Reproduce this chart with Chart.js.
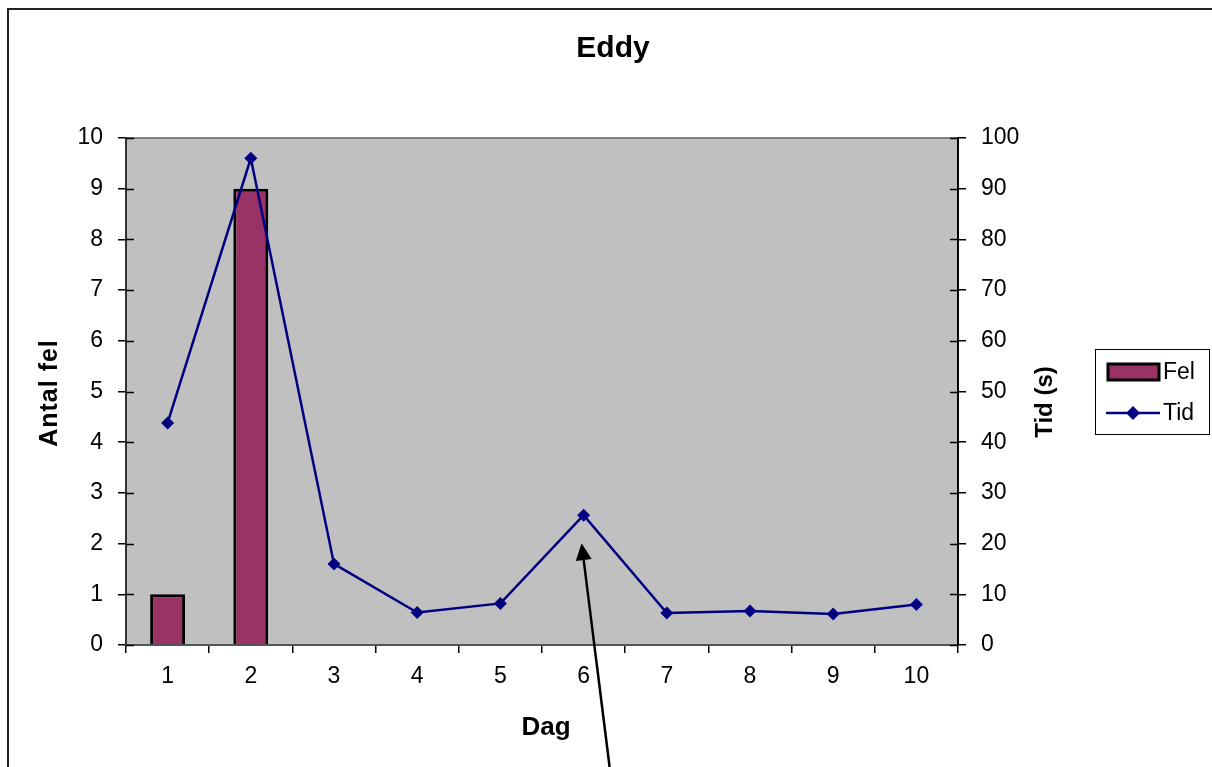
<!DOCTYPE html>
<html>
<head>
<meta charset="utf-8">
<script src="https://cdn.jsdelivr.net/npm/chart.js@4/dist/chart.umd.min.js"></script>
<style>
  html, body { margin: 0; padding: 0; background: #fff; }
  #myChart { display: block; }
</style>
</head>
<body>
<canvas id="myChart" width="1212" height="767"></canvas>
<script>
const days = ["1", "2", "3", "4", "5", "6", "7", "8", "9", "10"];
const felValues = [1, 9, 0, 0, 0, 0, 0, 0, 0, 0];
const tidValues = [43.8, 96, 16, 6.4, 8.2, 25.6, 6.3, 6.7, 6.1, 8];
const chartTitle = "Eddy";
const leftTitle = "Antal fel";
const rightTitle = "Tid (s)";
const bottomTitle = "Dag";
const arrowDayIndex = 5;

const FONT = "'Liberation Sans', Arial, sans-serif";

const drawRotated = (ctx, text, x, y, spacing) => {
  ctx.save();
  ctx.translate(x, y);
  ctx.rotate(-Math.PI / 2);
  ctx.letterSpacing = spacing;
  ctx.textAlign = "center";
  ctx.textBaseline = "middle";
  ctx.fillText(text, 0, 0);
  ctx.restore();
};

// grey plot area, outer frame, titles, legend and the arrow
const decorations = {
  id: "decorations",
  beforeDraw: (chart) => {
    const ctx = chart.ctx;
    const a = chart.chartArea;
    ctx.save();
    ctx.fillStyle = "#fff";
    ctx.fillRect(0, 0, chart.width, chart.height);
    ctx.fillStyle = "#C0C0C0";
    ctx.fillRect(a.left, a.top, a.right - a.left, a.bottom - a.top);
    ctx.strokeStyle = "#808080";
    ctx.lineWidth = 2;
    ctx.strokeRect(a.left, a.top, a.right - a.left, a.bottom - a.top);
    ctx.strokeStyle = "#222";
    ctx.lineWidth = 2;
    ctx.beginPath();
    ctx.moveTo(8, chart.height);
    ctx.lineTo(8, 9);
    ctx.lineTo(chart.width, 9);
    ctx.stroke();
    ctx.restore();
  },
  afterDraw: (chart) => {
    const ctx = chart.ctx;
    const a = chart.chartArea;
    ctx.save();
    // inner halves of the value axis ticks
    ctx.strokeStyle = "#000";
    ctx.lineWidth = 1.5;
    const yl = chart.scales.y;
    const yr = chart.scales.y1;
    yl.ticks.forEach((t) => {
      const py = Math.round(yl.getPixelForValue(t.value)) + 0.5;
      ctx.beginPath();
      ctx.moveTo(a.left, py);
      ctx.lineTo(a.left + 8, py);
      ctx.stroke();
    });
    yr.ticks.forEach((t) => {
      const py = Math.round(yr.getPixelForValue(t.value)) + 0.5;
      ctx.beginPath();
      ctx.moveTo(a.right - 8, py);
      ctx.lineTo(a.right, py);
      ctx.stroke();
    });

    // title and axis titles
    ctx.fillStyle = "#000";
    ctx.font = "bold 30px " + FONT;
    ctx.textAlign = "center";
    ctx.textBaseline = "middle";
    ctx.fillText(chartTitle, 613, 49);
    ctx.font = "bold 26px " + FONT;
    ctx.fillText(bottomTitle, 546, 728);
    ctx.font = "bold 25px " + FONT;
    drawRotated(ctx, leftTitle, 50, 393, "1px");
    ctx.font = "bold 24px " + FONT;
    drawRotated(ctx, rightTitle, 1045, 402, "0px");

    // legend
    const lx = 1095, ly = 349, lw = 114, lh = 85;
    ctx.fillStyle = "#fff";
    ctx.fillRect(lx, ly, lw, lh);
    ctx.strokeStyle = "#000";
    ctx.lineWidth = 1;
    ctx.strokeRect(lx + 0.5, ly + 0.5, lw, lh);
    const bar = chart.data.datasets[0];
    const line = chart.data.datasets[1];
    ctx.fillStyle = bar.backgroundColor;
    ctx.fillRect(1108, 364, 51, 16);
    ctx.strokeStyle = "#000";
    ctx.lineWidth = 3;
    ctx.strokeRect(1108, 364, 51, 16);
    ctx.strokeStyle = line.borderColor;
    ctx.lineWidth = 2.5;
    ctx.beginPath();
    ctx.moveTo(1106, 413);
    ctx.lineTo(1160, 413);
    ctx.stroke();
    ctx.fillStyle = line.borderColor;
    ctx.beginPath();
    ctx.moveTo(1133, 406);
    ctx.lineTo(1140, 413);
    ctx.lineTo(1133, 420);
    ctx.lineTo(1126, 413);
    ctx.closePath();
    ctx.fill();
    ctx.fillStyle = "#000";
    ctx.font = "23px " + FONT;
    ctx.textAlign = "left";
    ctx.textBaseline = "middle";
    ctx.fillText(bar.label, 1163, 373);
    ctx.fillText(line.label, 1163, 414);

    // arrow pointing at day 6
    const tipX = chart.scales.x.getPixelForValue(arrowDayIndex) - 2;
    const tipY = yr.getPixelForValue(tidValues[arrowDayIndex]) + 28;
    const tailX = tipX + 28;
    const tailY = chart.height;
    const ang = Math.atan2(tipY - tailY, tipX - tailX);
    const c = Math.cos(ang), s = Math.sin(ang);
    ctx.strokeStyle = "#000";
    ctx.fillStyle = "#000";
    ctx.lineWidth = 2.5;
    ctx.beginPath();
    ctx.moveTo(tailX, tailY);
    ctx.lineTo(tipX - c * 12, tipY - s * 12);
    ctx.stroke();
    ctx.beginPath();
    ctx.moveTo(tipX, tipY);
    ctx.lineTo(tipX - c * 17 + s * 8, tipY - s * 17 - c * 8);
    ctx.lineTo(tipX - c * 17 - s * 8, tipY - s * 17 + c * 8);
    ctx.closePath();
    ctx.fill();
    ctx.restore();
  },
};

const initiateChart = () => {
  const ctx = document.getElementById("myChart");
  const Data = {
    labels: days,
    datasets: [
      {
        type: "bar",
        label: "Fel",
        data: felValues,
        yAxisID: "y",
        backgroundColor: "#993366",
        borderColor: "#000",
        borderWidth: 3,
        barPercentage: 0.42,
        categoryPercentage: 1,
        order: 1,
      },
      {
        type: "line",
        label: "Tid",
        data: tidValues,
        yAxisID: "y1",
        borderColor: "#000080",
        backgroundColor: "#000080",
        borderWidth: 2.5,
        pointStyle: "rectRot",
        pointRadius: 6.5,
        pointBorderWidth: 0,
        tension: 0,
        order: 0,
      },
    ],
  };

  const tickFont = { family: FONT, size: 23 };

  const Config = {
    data: Data,
    options: {
      responsive: false,
      animation: false,
      layout: { padding: { left: 0, top: 138, right: 144, bottom: 0 } },
      plugins: {
        legend: { display: false },
        tooltip: { enabled: false },
      },
      scales: {
        x: {
          offset: true,
          grid: {
            offset: true,
            drawOnChartArea: false,
            color: "#000",
            tickLength: 8,
            lineWidth: 1.5,
          },
          border: { color: "#555", width: 2 },
          ticks: { color: "#000", font: tickFont, padding: 10 },
          afterFit: (scale) => { scale.height = 122; },
        },
        y: {
          position: "left",
          min: 0,
          max: 10,
          ticks: { stepSize: 1, color: "#000", font: tickFont, padding: 15 },
          grid: { drawOnChartArea: false, color: "#000", tickLength: 8, lineWidth: 1.5 },
          border: { color: "#333", width: 2 },
          afterFit: (scale) => { scale.width = 126; },
        },
        y1: {
          position: "right",
          min: 0,
          max: 100,
          ticks: { stepSize: 10, color: "#000", font: tickFont, padding: 15 },
          grid: { drawOnChartArea: false, color: "#000", tickLength: 8, lineWidth: 1.5 },
          border: { color: "#000", width: 2 },
          afterFit: (scale) => { scale.width = 110; },
        },
      },
    },
    plugins: [decorations],
  };
  const myChart = new Chart(ctx, Config);
};

initiateChart();
</script>
</body>
</html>
